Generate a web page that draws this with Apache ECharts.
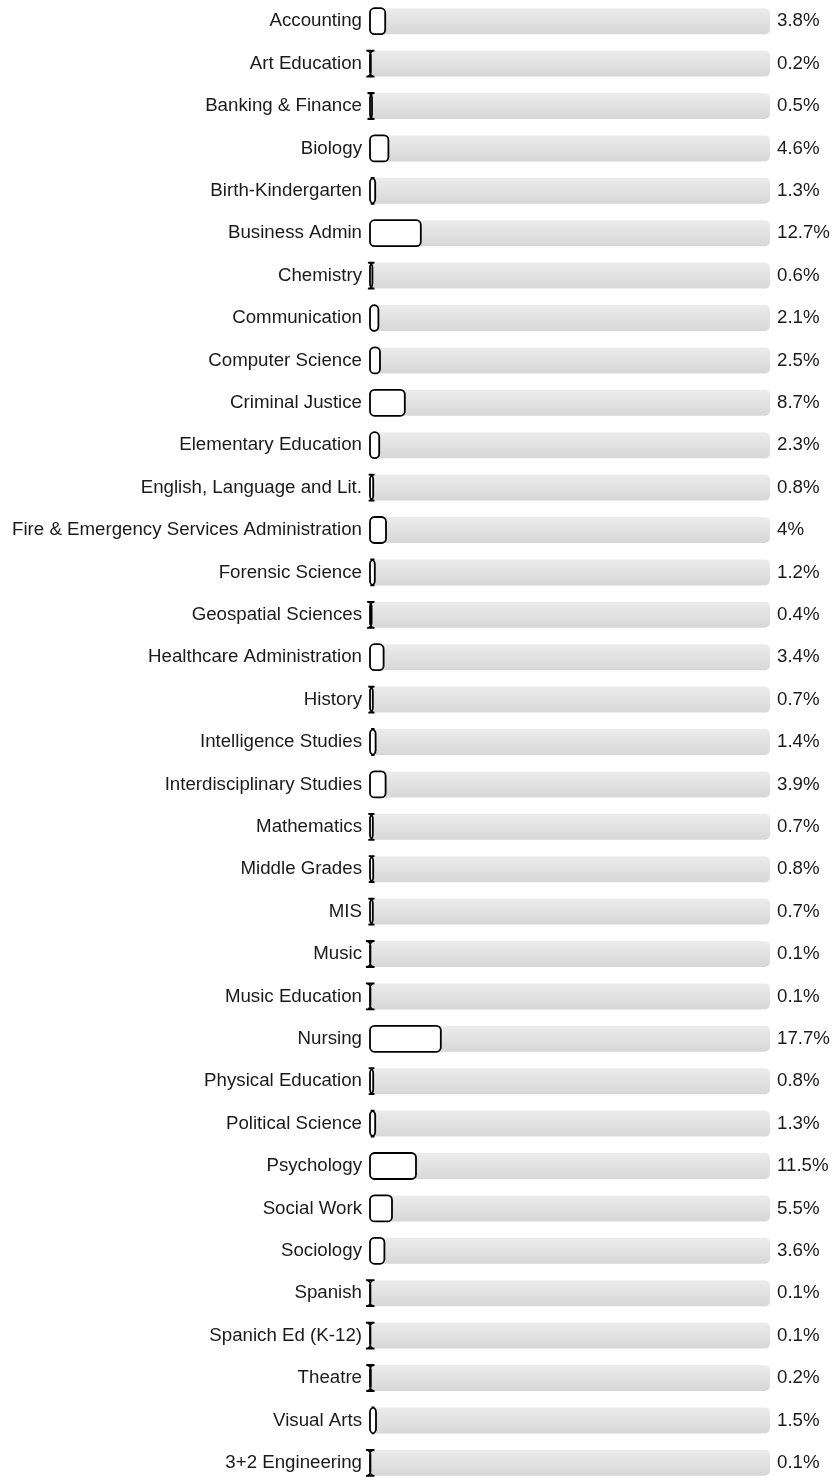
<!DOCTYPE html>
<html>
<head>
<meta charset="utf-8">
<script src="https://cdn.jsdelivr.net/npm/echarts@6/dist/echarts.min.js"></script>
<style>
  html, body { margin: 0; padding: 0; background: #ffffff; }
  #chart { width: 833px; height: 1484px; }
</style>
</head>
<body>
<div id="chart"></div>
<script>
// Majors and their share of students (%)
const majors = [
  'Accounting', 'Art Education', 'Banking & Finance', 'Biology', 'Birth-Kindergarten',
  'Business Admin', 'Chemistry', 'Communication', 'Computer Science', 'Criminal Justice',
  'Elementary Education', 'English, Language and Lit.', 'Fire & Emergency Services Administration',
  'Forensic Science', 'Geospatial Sciences', 'Healthcare Administration', 'History',
  'Intelligence Studies', 'Interdisciplinary Studies', 'Mathematics', 'Middle Grades', 'MIS',
  'Music', 'Music Education', 'Nursing', 'Physical Education', 'Political Science',
  'Psychology', 'Social Work', 'Sociology', 'Spanish', 'Spanich Ed (K-12)', 'Theatre',
  'Visual Arts', '3+2 Engineering'
];
const shares = [
  3.8, 0.2, 0.5, 4.6, 1.3,
  12.7, 0.6, 2.1, 2.5, 8.7,
  2.3, 0.8, 4,
  1.2, 0.4, 3.4, 0.7,
  1.4, 3.9, 0.7, 0.8, 0.7,
  0.1, 0.1, 17.7, 0.8, 1.3,
  11.5, 5.5, 3.6, 0.1, 0.1, 0.2,
  1.5, 0.1
];
const fullScale = 100;
const track = majors.map(() => fullScale);

const FONT = 'Liberation Sans, Arial, sans-serif';
const FONT_SIZE = 18.7;
const BAR_H = 26;
const CORNER = 4.5;

// Rounded rectangle outline whose corner radius is never shrunk,
// so very thin bars keep their little end caps.
function roundedPath(x, y, w, h, r) {
  return [
    'M', x + r, y,
    'L', x + w - r, y,
    'A', r, r, 0, 0, 1, x + w, y + r,
    'L', x + w, y + h - r,
    'A', r, r, 0, 0, 1, x + w - r, y + h,
    'L', x + r, y + h,
    'A', r, r, 0, 0, 1, x, y + h - r,
    'L', x, y + r,
    'A', r, r, 0, 0, 1, x + r, y,
    'Z'
  ].join(' ');
}

const chart = echarts.init(document.getElementById('chart'), null, { renderer: 'canvas' });
chart.setOption({
  animation: false,
  grid: { left: 370, top: 0, width: 400, height: 1492, containLabel: false },
  xAxis: { type: 'value', min: 0, max: fullScale, show: false },
  yAxis: {
    type: 'category',
    data: majors,
    inverse: true,
    axisLine: { show: false },
    axisTick: { show: false },
    splitLine: { show: false },
    axisLabel: { margin: 8, fontFamily: FONT, fontSize: FONT_SIZE, color: '#1a1a1a' }
  },
  series: [
    {
      // grey track behind every bar, carrying the value label on its right
      type: 'bar',
      data: track,
      barWidth: BAR_H,
      silent: true,
      z: 1,
      itemStyle: {
        borderRadius: 5,
        color: new echarts.graphic.LinearGradient(0, 0, 0, 1, [
          { offset: 0, color: '#ececec' },
          { offset: 1, color: '#d7d7d7' }
        ])
      },
      label: {
        show: true,
        position: 'right',
        distance: 7,
        fontFamily: FONT,
        fontSize: FONT_SIZE,
        color: '#1a1a1a',
        formatter: p => shares[p.dataIndex] + '%'
      }
    },
    {
      type: 'custom',
      z: 5,
      clip: false,
      data: shares.map((v, i) => [v, i]),
      encode: { x: 0, y: 1 },
      renderItem: (params, api) => {
        const start = api.coord([0, api.value(1)]);
        const end = api.coord([api.value(0), api.value(1)]);
        const w = end[0] - start[0];
        const y = start[1] - BAR_H / 2;
        return {
          type: 'path',
          shape: { pathData: roundedPath(start[0], y, w, BAR_H, CORNER) },
          style: { fill: '#ffffff', stroke: '#000000', lineWidth: 1.8 }
        };
      }
    }
  ]
});
</script>
</body>
</html>
